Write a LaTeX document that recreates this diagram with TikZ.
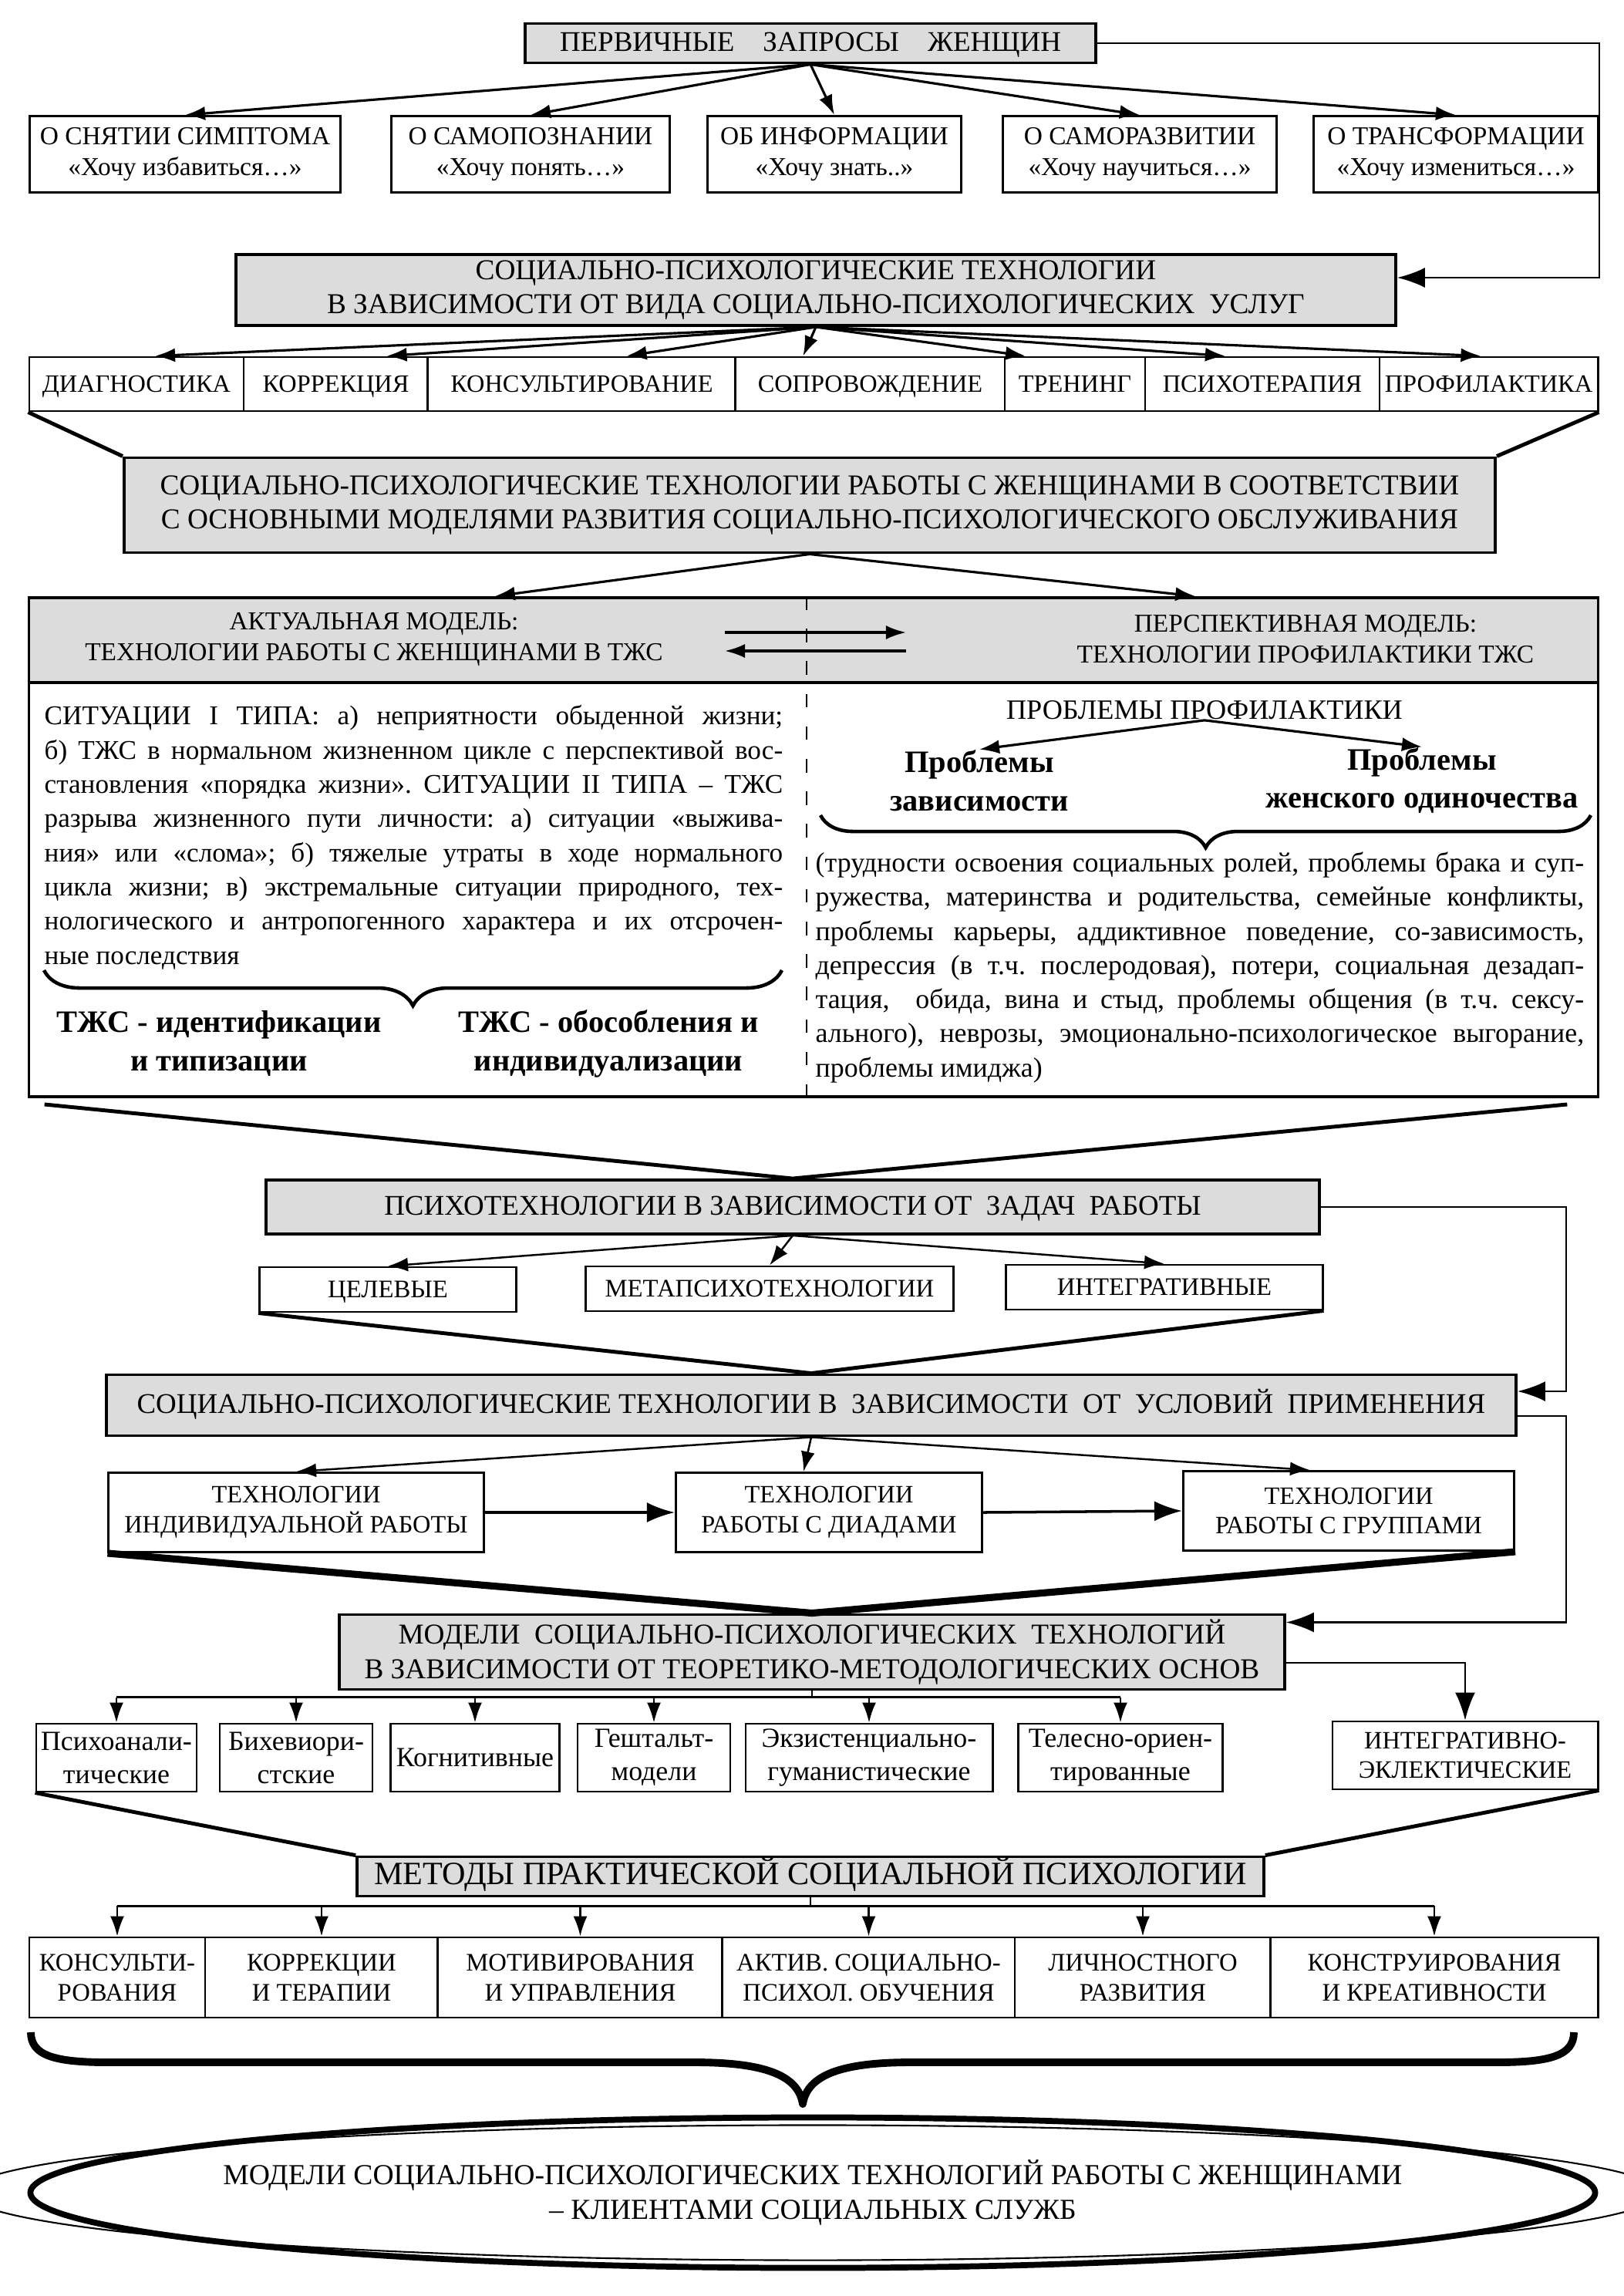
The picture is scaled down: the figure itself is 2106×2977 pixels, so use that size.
\documentclass[tikz,border=0pt]{standalone}
\usepackage{fontspec}
\setmainfont{Liberation Serif}
\usetikzlibrary{arrows.meta,positioning,shapes.geometric,decorations.pathreplacing}
\definecolor{boxgray}{HTML}{DCDCDC}
\tikzset{
  fs/.style={font=\fontsize{#1}{\dimexpr#1pt*6/5\relax}\selectfont},
  gbox/.style={rectangle,draw=black,line width=1.1pt,fill=boxgray,align=center,inner sep=1pt},
  wbox/.style={rectangle,draw=black,line width=0.8pt,fill=white,align=center,inner sep=1pt},
  oneline/.style={text height=1.55ex,text depth=0.3ex},
  cell/.style={wbox,oneline,minimum height=0.70cm,fs=9.2},
  hdr/.style={align=center,inner sep=0pt,fs=9.5},
  para/.style={align=justify,inner sep=0pt,anchor=north west,font=\fontsize{#1}{12.6}\selectfont\frenchspacing},
  boldtxt/.style={align=center,inner sep=0pt,font=\bfseries\fontsize{11.5}{14.2}\selectfont},
  arr/.style={-{Latex[length=2.6mm,width=1.8mm]},line width=0.9pt},
  bigarr/.style={-{Latex[length=3.6mm,width=2.6mm]},line width=1pt},
  tie/.style={line width=0.8pt},
  funnel/.style={line width=1.4pt},
  wedge/.style={line width=2.6pt},
  curly/.style={decorate,decoration={brace,mirror,amplitude=#1},line width=1.3pt},
  goalnode/.style={ellipse,draw=black,line width=0.6pt,minimum width=19.85cm,minimum height=1.75cm,align=center,fs=10.7},
}
\begin{document}
\begin{tikzpicture}[x=0.01cm,y=-0.01cm]
\useasboundingbox (0,0) rectangle (2106,2977);

% первичные запросы
\node[gbox,oneline,minimum width=7.40cm,minimum height=0.51cm,fs=10.5] (req) at (1051,56) {ПЕРВИЧНЫЕ\hspace{1em}ЗАПРОСЫ\hspace{1em}ЖЕНЩИН};
\foreach \x/\w/\lbl [count=\i] in {240/4.03cm/{О СНЯТИИ СИМПТОМА\\«Хочу избавиться…»},
    688/3.60cm/{О САМОПОЗНАНИИ\\«Хочу понять…»},
    1082/3.29cm/{ОБ ИНФОРМАЦИИ\\«Хочу знать..»},
    1478/3.55cm/{О САМОРАЗВИТИИ\\«Хочу научиться…»},
    1888/3.69cm/{О ТРАНСФОРМАЦИИ\\«Хочу измениться…»}}
  \node[wbox,fs=9.5,minimum width=\w,minimum height=0.99cm] (q\i) at (\x,200) {\lbl};
\foreach \i in {1,...,5} \draw[arr] (req.south) -- (q\i.north);

% виды услуг
\node[gbox,minimum width=15.03cm,minimum height=0.92cm,fs=10.6] (svc) at (1058,376) {СОЦИАЛЬНО-ПСИХОЛОГИЧЕСКИЕ ТЕХНОЛОГИИ\\В ЗАВИСИМОСТИ ОТ ВИДА СОЦИАЛЬНО-ПСИХОЛОГИЧЕСКИХ\ \ УСЛУГ};
\coordinate (svcin) at ([yshift=0.16cm]svc.east);
\draw[bigarr,line width=0.8pt] (req.east) -| (svcin -| q5.east) -- (svcin);
\foreach \x/\w/\lbl/\dx [count=\i] in {177/2.78cm/ДИАГНОСТИКА/0.24, 435.5/2.39cm/КОРРЕКЦИЯ/0.66,
    754.5/3.99cm/КОНСУЛЬТИРОВАНИЕ/0.58, 1128.5/3.49cm/СОПРОВОЖДЕНИЕ/-0.87, 1394/1.82cm/ТРЕНИНГ/-0.64,
    1637/3.04cm/ПСИХОТЕРАПИЯ/-0.48, 1930.5/2.83cm/ПРОФИЛАКТИКА/-0.10}
{
  \node[cell,minimum width=\w] (s\i) at (\x,498) {\lbl};
  \draw[arr] (svc.south) -- ([xshift=\dx cm]s\i.north);
}

% модели обслуживания
\node[gbox,minimum width=17.77cm,minimum height=1.23cm,fs=10.6] (mod) at (1050,655) {СОЦИАЛЬНО-ПСИХОЛОГИЧЕСКИЕ ТЕХНОЛОГИИ РАБОТЫ С ЖЕНЩИНАМИ В СООТВЕТСТВИИ\\С ОСНОВНЫМИ МОДЕЛЯМИ РАЗВИТИЯ СОЦИАЛЬНО-ПСИХОЛОГИЧЕСКОГО ОБСЛУЖИВАНИЯ};
\draw[funnel] (s1.south west) -- (mod.north west);
\draw[funnel] (s7.south east) -- (mod.north east);

% актуальная / перспективная модель
\fill[boxgray] (38,775) rectangle (2072,887);
\node[draw=black,line width=1pt,minimum width=20.34cm,minimum height=6.47cm,inner sep=0pt] (frm) at (1055,1098.5) {};
\draw[line width=1.3pt] ([yshift=-1.12cm]frm.north west) -- ([yshift=-1.12cm]frm.north east);
\draw[line width=0.6pt,dash pattern=on 5pt off 7pt] ([xshift=-0.09cm]frm.north) -- ([xshift=-0.09cm]frm.south);
\draw[arr] (mod.south) -- ([xshift=-4.13cm]frm.north);
\draw[arr] (mod.south) -- ([xshift=4.95cm]frm.north);
\node[hdr] (hdrL) at (485,829) {АКТУАЛЬНАЯ МОДЕЛЬ:\\ТЕХНОЛОГИИ РАБОТЫ С ЖЕНЩИНАМИ В ТЖС};
\node[hdr] (hdrR) at (1693,829) {ПЕРСПЕКТИВНАЯ МОДЕЛЬ:\\ТЕХНОЛОГИИ ПРОФИЛАКТИКИ ТЖС};
\coordinate (dL) at (940,832);
\coordinate (dR) at (1175,832);
\draw[arr] ([yshift=0.12cm]dL) -- ([yshift=0.12cm]dR);
\draw[arr] ([yshift=-0.12cm]dR) -- ([yshift=-0.12cm]dL);

\node[para=10,text width=9.57cm] (txtL) at (57,914) {СИТУАЦИИ I ТИПА: а) неприятности обыденной жизни;\linebreak
  б) ТЖС в нормальном жизненном цикле с перспективой вос-\linebreak
  становления «порядка жизни». СИТУАЦИИ II ТИПА – ТЖС\linebreak
  разрыва жизненного пути личности: а) ситуации «выжива-\linebreak
  ния» или «слома»; б) тяжелые утраты в ходе нормального\linebreak
  цикла жизни; в) экстремальные ситуации природного, тех-\linebreak
  нологического и антропогенного характера и их отсрочен-\linebreak
  ные последствия};
\draw[curly=0.46cm] (57,1258) -- (1014,1258);
\node[boldtxt] (tzi) at (284,1353) {ТЖС - идентификации\\и типизации};
\node[boldtxt] (tzo) at (789,1353) {ТЖС - обособления и\\индивидуализации};

\node[inner sep=0pt,fs=10.3] (pp) at (1562,921) {ПРОБЛЕМЫ ПРОФИЛАКТИКИ};
\node[boldtxt] (pz) at (1270,1012) {Проблемы\\зависимости};
\node[boldtxt] (po) at (1844,1012) {Проблемы\\женского одиночества};
\draw[arr] (pp.south) -- (pz.north);
\draw[arr] (pp.south) -- (po.north);
\draw[curly=0.42cm] (1064,1057) -- (2063,1057);
\node[para=10.2,text width=9.96cm] (txtR) at (1057,1104) {(трудности освоения социальных ролей, проблемы брака и суп-\linebreak
  ружества, материнства и родительства, семейные конфликты,\linebreak
  проблемы карьеры, аддиктивное поведение, со-зависимость,\linebreak
  депрессия (в т.ч. послеродовая), потери, социальная дезадап-\linebreak
  тация,\ \ обида, вина и стыд, проблемы общения (в т.ч. сексу-\linebreak
  ального), неврозы, эмоционально-психологическое выгорание,\linebreak
  проблемы имиджа)};

% задачи работы
\node[gbox,oneline,minimum width=13.65cm,minimum height=0.70cm,fs=10.5] (task) at (1028,1565) {ПСИХОТЕХНОЛОГИИ В ЗАВИСИМОСТИ ОТ\ \ ЗАДАЧ\ \ РАБОТЫ};
\draw[funnel] ([xshift=0.22cm,yshift=-0.08cm]frm.south west) -- (task.north) -- ([xshift=-0.42cm,yshift=-0.08cm]frm.south east);
\node[wbox,oneline,minimum width=3.33cm,minimum height=0.58cm,fs=9.3] (tg) at (503,1672) {ЦЕЛЕВЫЕ};
\node[wbox,oneline,minimum width=4.77cm,minimum height=0.58cm,fs=9.3] (tm) at (998,1671) {МЕТАПСИХОТЕХНОЛОГИИ};
\node[wbox,oneline,minimum width=4.10cm,minimum height=0.58cm,fs=9.3] (ti) at (1510,1669) {ИНТЕГРАТИВНЫЕ};
\foreach \n in {tg,tm,ti} \draw[arr,line width=0.7pt] (task.south) -- (\n.north);

% условия применения
\node[gbox,oneline,minimum width=18.27cm,minimum height=0.79cm,fs=10.5] (cond) at (1052,1822) {СОЦИАЛЬНО-ПСИХОЛОГИЧЕСКИЕ ТЕХНОЛОГИИ В\ \ ЗАВИСИМОСТИ\ \ ОТ\ \ УСЛОВИЙ\ \ ПРИМЕНЕНИЯ};
\draw[funnel] (tg.south west) -- (cond.north) -- (ti.south east);
\coordinate (condin) at ([yshift=0.18cm]cond.east);
\draw[bigarr,line width=0.8pt] (task.east) -| ([xshift=0.63cm]condin) -- (condin);
\node[wbox,minimum width=4.86cm,minimum height=1.03cm,fs=9.2] (t1) at (384,1961) {ТЕХНОЛОГИИ\\ИНДИВИДУАЛЬНОЙ РАБОТЫ};
\node[wbox,minimum width=3.97cm,minimum height=1.03cm,fs=9.2] (t2) at (1075,1961) {ТЕХНОЛОГИИ\\РАБОТЫ С ДИАДАМИ};
\node[wbox,minimum width=4.29cm,minimum height=1.03cm,fs=9.2] (t3) at (1749,1959) {ТЕХНОЛОГИИ\\РАБОТЫ С ГРУППАМИ};
\draw[arr,line width=0.7pt] (cond.south) -- (t1.north);
\draw[arr,line width=0.7pt] (cond.south) -- ([xshift=-0.33cm]t2.north);
\draw[arr,line width=0.7pt] (cond.south) -- ([xshift=-0.50cm]t3.north);
\draw[bigarr] (t1.east) -- (t2.west);
\draw[bigarr] (t2.east) -- (t3.west);

% теоретико-методологические основы
\node[gbox,minimum width=12.25cm,minimum height=0.97cm,fs=10.6] (theo) at (1053,2142) {МОДЕЛИ\ \ СОЦИАЛЬНО-ПСИХОЛОГИЧЕСКИХ\ \ ТЕХНОЛОГИЙ\\В ЗАВИСИМОСТИ ОТ ТЕОРЕТИКО-МЕТОДОЛОГИЧЕСКИХ ОСНОВ};
\draw[wedge] (t1.south west) -- (theo.north) -- (t3.south east);
\coordinate (condout) at ([yshift=-0.14cm]cond.east);
\coordinate (theoin) at ([yshift=0.385cm]theo.east);
\draw[bigarr,line width=0.8pt] (condout) -- ++(0.63cm,0) |- (theoin);
\foreach \x/\w/\lbl [count=\i] in {151/2.08cm/{Психоанали-\\тические}, 384/1.98cm/{Бихевиори-\\стские},
    616/2.19cm/{Когнитивные}, 848/1.98cm/{Гештальт-\\модели}, 1127/3.20cm/{Экзистенциально-\\гуманистические},
    1453/2.65cm/{Телесно-ориен-\\тированные}}
  \node[wbox,minimum width=\w,minimum height=0.88cm,fs=10.2] (m\i) at (\x,2279) {\lbl};
\node[wbox,minimum width=3.44cm,minimum height=0.88cm,fs=9.2] (m7) at (1900,2276) {ИНТЕГРАТИВНО-\\ЭКЛЕКТИЧЕСКИЕ};
\coordinate (busA) at ([yshift=-0.08cm]theo.south);
\draw[tie] (theo.south) -- (busA);
\draw[tie] (m1.north |- busA) -- (m6.north |- busA);
\foreach \i in {1,...,6} \draw[arr,line width=0.7pt] (m\i.north |- busA) -- (m\i.north);
\draw[bigarr,line width=0.8pt] ([yshift=-0.14cm]theo.east) -| (m7.north);

% методы практической социальной психологии
\node[gbox,oneline,minimum width=11.75cm,minimum height=0.51cm,fs=12] (meth) at (1051,2433) {МЕТОДЫ ПРАКТИЧЕСКОЙ СОЦИАЛЬНОЙ ПСИХОЛОГИИ};
\draw[funnel] (m1.south west) -- (meth.north west);
\draw[funnel] (m7.south east) -- (meth.north east);
\foreach \x/\w/\lbl [count=\i] in {152/2.28cm/{КОНСУЛЬТИ-\\РОВАНИЯ}, 417/3.02cm/{КОРРЕКЦИИ\\И ТЕРАПИИ},
    752.5/3.69cm/{МОТИВИРОВАНИЯ\\И УПРАВЛЕНИЯ}, 1126.5/3.79cm/{АКТИВ. СОЦИАЛЬНО-\\ПСИХОЛ. ОБУЧЕНИЯ},
    1482/3.32cm/{ЛИЧНОСТНОГО\\РАЗВИТИЯ}, 1860/4.24cm/{КОНСТРУИРОВАНИЯ\\И КРЕАТИВНОСТИ}}
  \node[wbox,minimum width=\w,minimum height=1.04cm,fs=9.3] (k\i) at (\x,2564) {\lbl};
\coordinate (busB) at ([yshift=-0.11cm]meth.south);
\draw[tie] (meth.south) -- (busB);
\draw[tie] (k1.north |- busB) -- (k6.north |- busB);
\foreach \i in {1,...,6} \draw[arr,line width=0.7pt] (k\i.north |- busB) -- (k\i.north);

% итог
\draw[line width=2.8pt,line join=round] (40,2635) .. controls (40,2665) and (70,2674) .. (140,2674) -- (900,2674)
  .. controls (990,2674) and (1035,2690) .. (1041,2728) .. controls (1047,2690) and (1092,2674) .. (1182,2674)
  -- (1941,2674) .. controls (2011,2674) and (2041,2665) .. (2041,2635);
\node[goalnode] (goal) at (1054,2843) {МОДЕЛИ СОЦИАЛЬНО-ПСИХОЛОГИЧЕСКИХ ТЕХНОЛОГИЙ РАБОТЫ С ЖЕНЩИНАМИ\\– КЛИЕНТАМИ СОЦИАЛЬНЫХ СЛУЖБ};
\draw[line width=2.2pt] (goal.center) ellipse [x radius=10.14cm,y radius=0.975cm];
\end{tikzpicture}
\end{document}
